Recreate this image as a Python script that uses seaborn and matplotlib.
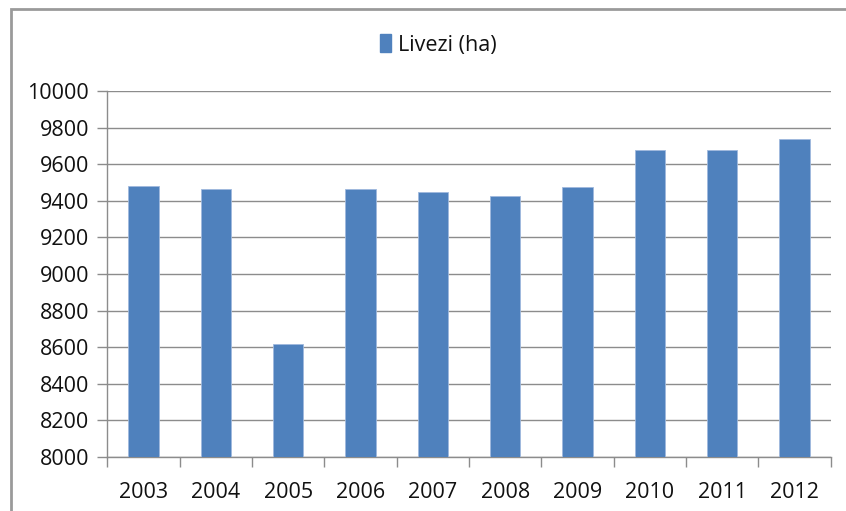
import matplotlib
matplotlib.use("Agg")
import matplotlib.pyplot as plt
import seaborn as sns
import pandas as pd
from matplotlib.patches import Rectangle, Patch

years = ["2003", "2004", "2005", "2006", "2007", "2008", "2009", "2010", "2011", "2012"]
livezi = [9482, 9465, 8615, 9465, 9446, 9427, 9476, 9675, 9675, 9736]
series_name = "Livezi (ha)"
yticks = [8000, 8200, 8400, 8600, 8800, 9000, 9200, 9400, 9600, 9800, 10000]

sns.set_theme(style="white")
plt.rcParams['font.family'] = ['Open Sans', 'DejaVu Sans']

df = pd.DataFrame({"year": years, "value": livezi})

W, H = 846, 511
fig = plt.figure(figsize=(W / 100, H / 100), dpi=100)
ax = fig.add_axes([107.3 / W, 1 - 457 / H, (830.7 - 107.3) / W, (457 - 91) / H])

blue = "#4F81BD"
sns.barplot(data=df, x="year", y="value", color=blue, saturation=1, width=0.42,
            edgecolor="#9fb9dd", linewidth=0.6, ax=ax, zorder=3)

grid_c = "#8c8c8c"
txt_c = "#111111"
fs = 15.5
ax.set_ylim(8000, 10000)
ax.set_xlim(-0.5, len(years) - 0.5)
ax.set_yticks(yticks)
ax.set_yticklabels([str(v) for v in yticks])
ax.yaxis.grid(True, color=grid_c, linewidth=1.0, zorder=0)
ax.set_axisbelow(True)
for s in ["top", "right"]:
    ax.spines[s].set_visible(False)
for s in ["left", "bottom"]:
    ax.spines[s].set_color(grid_c)
    ax.spines[s].set_linewidth(1.0)

ax.set_xlabel("")
ax.set_ylabel("")
ax.tick_params(axis="y", which="both", left=True, length=7, width=1.0, color=grid_c,
               labelsize=fs, pad=6, labelcolor=txt_c)
ax.set_xticks([i for i in range(len(years))])
ax.set_xticklabels(years)
ax.tick_params(axis="x", which="major", bottom=False, labelsize=fs, pad=12, labelcolor=txt_c)
ax.set_xticks([i - 0.5 for i in range(len(years) + 1)], minor=True)
ax.tick_params(axis="x", which="minor", bottom=True, length=7, width=1.0, color=grid_c)

handle = Patch(facecolor=blue, edgecolor=blue)
fig.legend([handle], [series_name], loc="center", bbox_to_anchor=(438 / W, 1 - 45 / H),
           frameon=False, fontsize=fs, handlelength=0.55, handleheight=0.85,
           handletextpad=0.3, labelcolor=txt_c)

fig.patches.append(Rectangle((10.5 / W, -10 / H), (W + 20) / W, (H + 0.5) / H,
                             transform=fig.transFigure, fill=False,
                             edgecolor="#9a9a9a", linewidth=2.0))

fig.savefig("out.png", dpi=100, facecolor="white")
